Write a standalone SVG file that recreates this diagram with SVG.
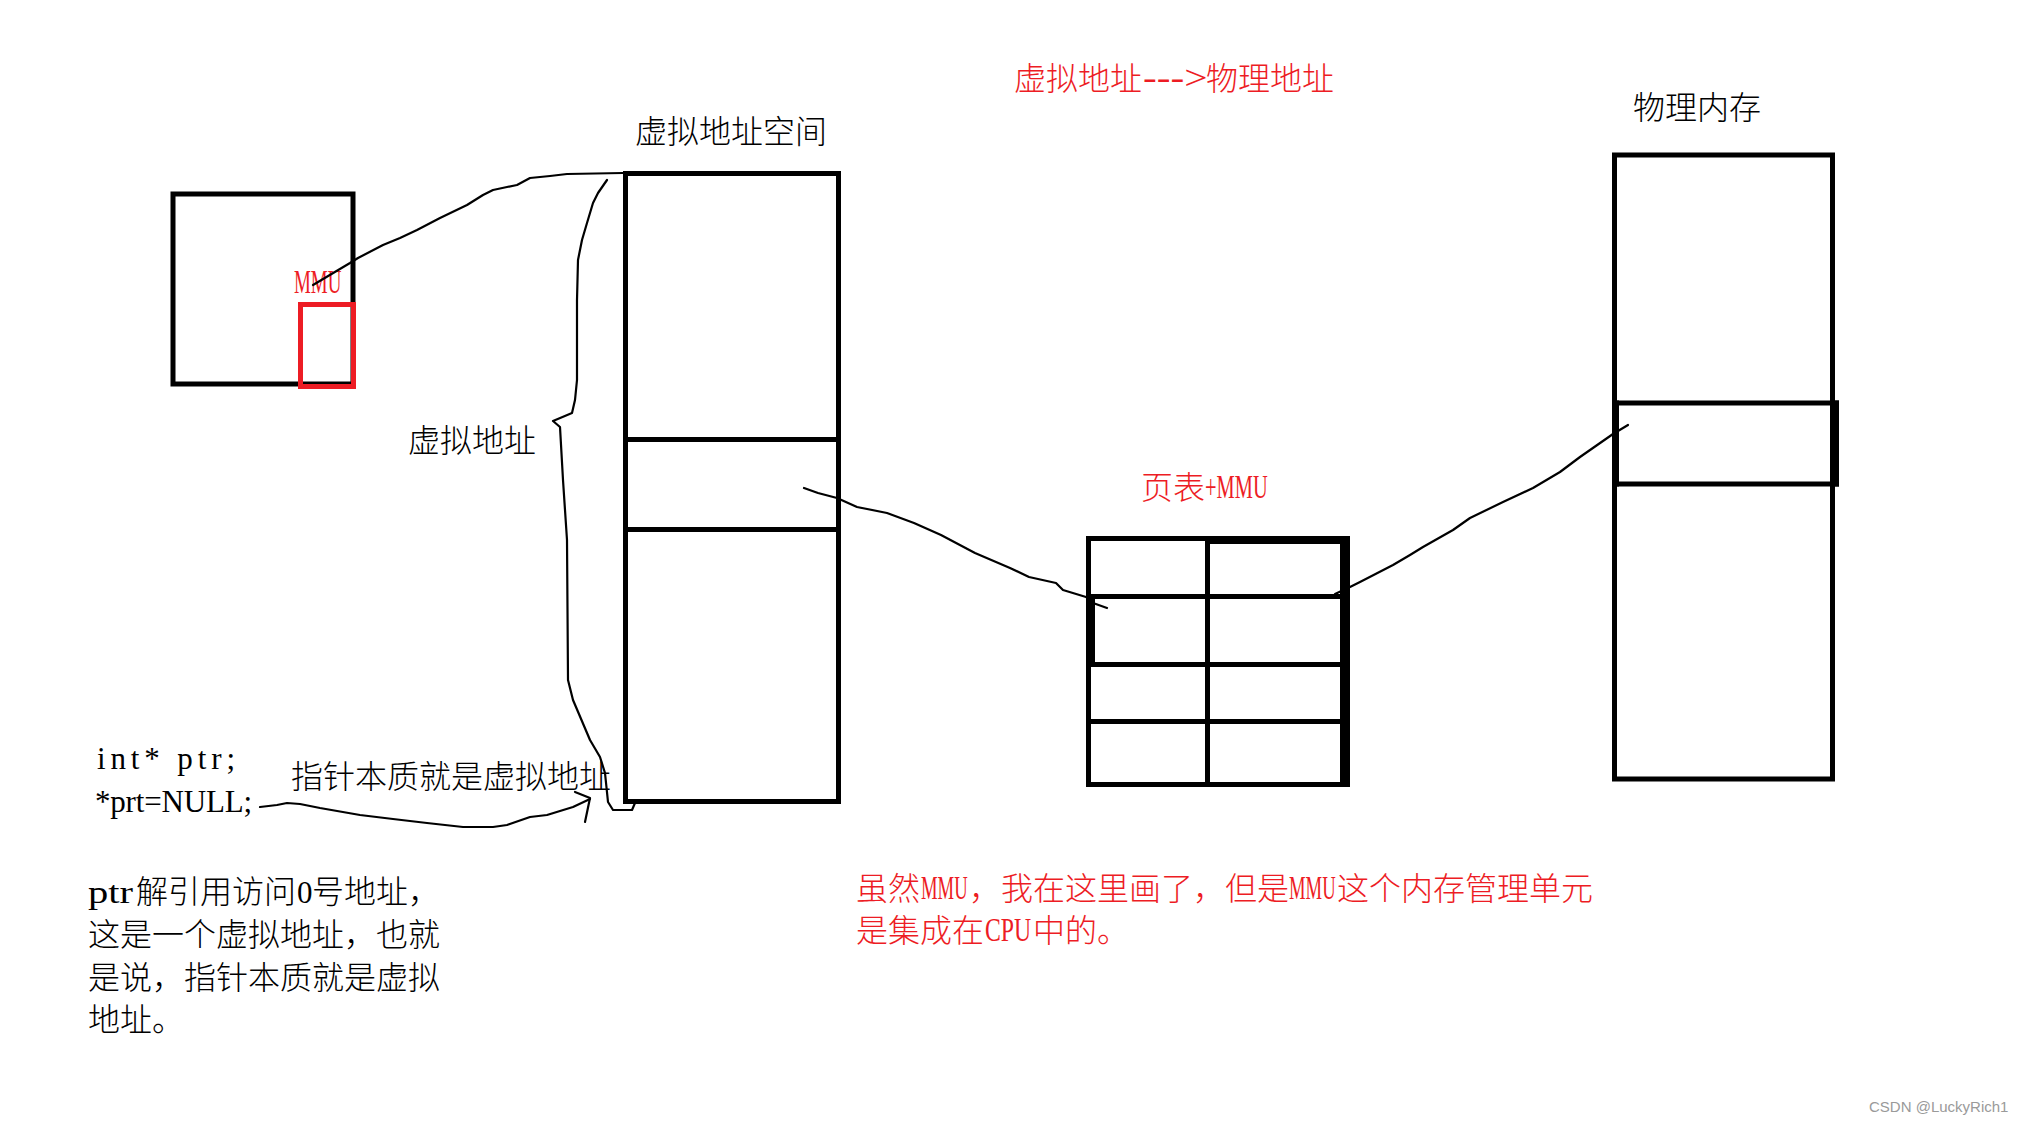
<svg xmlns="http://www.w3.org/2000/svg" width="2024" height="1124" viewBox="0 0 2024 1124">
<style>
.box{fill:none;stroke:#000;stroke-width:5}
.rbox{fill:none;stroke:#ED1C24;stroke-width:5}
.bar{stroke:#000;stroke-width:5}
.fillk{fill:#000}
.wire{fill:none;stroke:#000;stroke-width:2.2;stroke-linejoin:round;stroke-linecap:round}
.cjk{font-family:"Noto Sans CJK SC","Liberation Serif",serif;font-size:32px;font-weight:300;fill:#000}
.lat{font-family:"Liberation Serif","Noto Sans CJK SC",serif;font-size:31px;fill:#000}
.latr{font-family:"Liberation Serif","Noto Sans CJK SC",serif;font-size:33px;fill:#ED1C24}
.red{fill:#ED1C24}
.wm{font-family:"Liberation Sans",Arial,sans-serif;font-size:15px;fill:#9a9a9a}
</style>
<rect width="2024" height="1124" fill="#fff"/>

<g id="title">
<text class="cjk red" x="1014" y="90">虚拟地址</text>
<text class="latr" transform="translate(1143,89) scale(1.25,1)" x="0" y="0">---&gt;</text>
<text class="cjk red" x="1206" y="90">物理地址</text>
</g>

<g id="cpu">
<rect class="box" x="173" y="194" width="180" height="190"/>
<rect class="rbox" x="300.5" y="304.5" width="53" height="82"/>
<text class="latr" transform="translate(294,293) scale(0.575,1)" x="0" y="0">MMU</text>
</g>

<g id="vas">
<text class="cjk" x="635" y="143">虚拟地址空间</text>
<rect class="box" x="625.5" y="173.5" width="213" height="628"/>
<line class="bar" x1="623" y1="439.5" x2="841" y2="439.5"/>
<line class="bar" x1="623" y1="529.5" x2="841" y2="529.5"/>
</g>

<g id="vaddr-label">
<text class="cjk" x="408" y="452">虚拟地址</text>
</g>

<g id="page-table">
<text class="cjk red" x="1141" y="499">页表</text>
<text class="latr" transform="translate(1205,498) scale(0.62,1)" x="0" y="0">+MMU</text>
<rect class="box" x="1088.5" y="538.5" width="257" height="246"/>
<rect class="fillk" x="1340" y="536" width="10" height="251"/>
<rect class="fillk" x="1208" y="536" width="142" height="8"/>
<rect class="fillk" x="1086" y="597" width="9" height="67"/>
<line class="bar" x1="1207.5" y1="536" x2="1207.5" y2="787"/>
<line class="bar" x1="1086" y1="596.5" x2="1350" y2="596.5"/>
<line class="bar" x1="1086" y1="664.5" x2="1350" y2="664.5"/>
<line class="bar" x1="1086" y1="721.5" x2="1350" y2="721.5"/>
</g>

<g id="phys-mem">
<text class="cjk" x="1633" y="119">物理内存</text>
<rect class="box" x="1614.5" y="155" width="218" height="624"/>
<line class="bar" x1="1612" y1="403" x2="1839" y2="403"/>
<line class="bar" x1="1612" y1="484" x2="1839" y2="484"/>
<rect class="fillk" x="1830" y="400.5" width="9" height="86"/>
<rect class="fillk" x="1612" y="400.5" width="7" height="86"/>
</g>

<g id="code">
<text class="lat" x="97" y="769" textLength="138" lengthAdjust="spacing">int* ptr;</text>
<text class="lat" x="95" y="812" textLength="157" lengthAdjust="spacing">*prt=NULL;</text>
<text class="cjk" x="291" y="788">指针本质就是虚拟地址</text>
</g>

<g id="note-left">
<text class="cjk" x="88" y="903"><tspan class="lat" x="88" textLength="45" lengthAdjust="spacingAndGlyphs">ptr</tspan><tspan x="136">解引用访问</tspan><tspan class="lat" x="297">0</tspan><tspan x="312">号地址，</tspan></text>
<text class="cjk" x="88" y="946">这是一个虚拟地址，也就</text>
<text class="cjk" x="88" y="989">是说，指针本质就是虚拟</text>
<text class="cjk" x="88" y="1031">地址。</text>
</g>

<g id="note-red">
<text class="cjk red" x="856" y="900">虽然</text>
<text class="latr" transform="translate(921,899) scale(0.565,1)" x="0" y="0">MMU</text>
<text class="cjk red" x="969" y="900">，我在这里画了，但是</text>
<text class="latr" transform="translate(1289,899) scale(0.565,1)" x="0" y="0">MMU</text>
<text class="cjk red" x="1337" y="900">这个内存管理单元</text>
<text class="cjk red" x="856" y="942">是集成在</text>
<text class="latr" transform="translate(985,941) scale(0.72,1)" x="0" y="0">CPU</text>
<text class="cjk red" x="1033" y="942">中的。</text>
</g>

<g id="connectors">
<polyline class="wire" points="313,285 350,263 358,258 383,245 400,238 417,230 440,218 467,205 483,195 493,190 507,187 517,185 530,178 550,176 567,174 623,173"/>
<polyline class="wire" points="607,180 598,193 593,203 587,223 582,240 578,260 577,300 577,380 575,400 572,413 553,421 560,427 563,480 567,540 568,680 573,700 590,740 600,757 605,773 608,802 613,810 632,810 635,803"/>
<polyline class="wire" points="260,807 277,805 287,803 300,804 320,808 360,815 393,819 427,823 463,827 493,827 507,825 530,817 547,815 573,807 590,799"/>
<polyline class="wire" points="575,792 590,798 585,822"/>
<polyline class="wire" points="804,488 818,493 837,498 857,507 887,513 914,523 941,535 975,553 1010,568 1029,577 1056,583 1063,590 1086,597 1093,603 1107,608"/>
<polyline class="wire" points="1335,594 1350,587 1360,582 1393,565 1410,555 1423,547 1453,530 1470,518 1503,502 1533,488 1560,472 1580,457 1613,434 1628,425"/>
</g>

<g id="watermark">
<text class="wm" x="1869" y="1112">CSDN @LuckyRich1</text>
</g>
</svg>
